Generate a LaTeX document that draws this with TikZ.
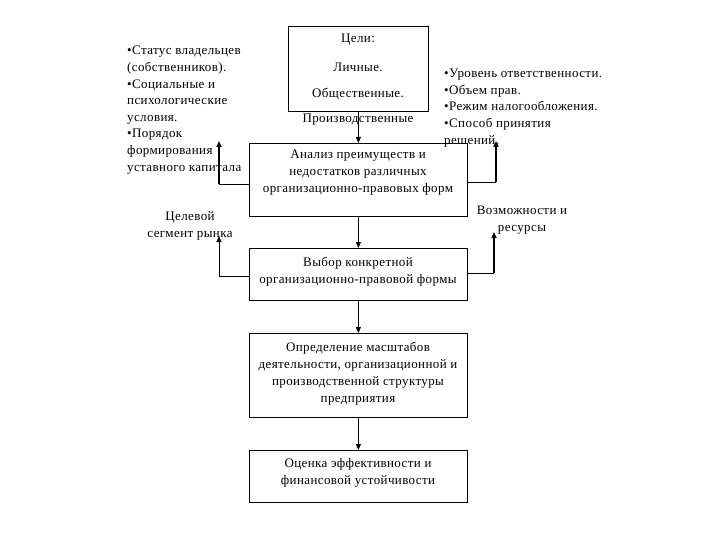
\documentclass[tikz,border=0pt]{standalone}
\usepackage{fontspec}
\setmainfont[LetterSpace=3]{Liberation Serif}
\usetikzlibrary{arrows.meta}
\begin{document}
\begin{tikzpicture}[x=1pt,y=-1pt,
  box/.style={draw, line width=0.8pt, inner sep=0, anchor=north west},
  txt/.style={font=\fontsize{13}{17}\selectfont, align=center, inner sep=0},
  ltxt/.style={font=\fontsize{13}{16.6}\selectfont, align=left, inner sep=0, anchor=north west},
  tip/.style={-{Triangle[width=5pt,length=6pt]}},
  arr/.style={tip, line width=0.8pt},
  thick arr/.style={tip, line width=2pt},
  thin line/.style={line width=0.8pt},
]
\useasboundingbox (0,0) rectangle (720,540);
% boxes
\node[box, minimum width=140pt, minimum height=85pt] (goals) at (288,26) {};
\node[box, minimum width=218pt, minimum height=73pt] (analysis) at (249,143) {};
\node[box, minimum width=218pt, minimum height=52pt] (choice) at (249,248) {};
\node[box, minimum width=218pt, minimum height=84pt] (scale) at (249,333) {};
\node[box, minimum width=218pt, minimum height=52pt] (eval) at (249,450) {};
% goals texts
\node[txt] (g1) at (358,40) {Цели:};
\node[txt] (g2) at (358,67) {Личные.};
\node[txt] (g3) at (358,94) {Общественные.};
\node[txt] (g4) at (358,120) {Производственные};
% box texts
\node[txt] (at) at (358,173) {Анализ преимуществ и\\недостатков различных\\организационно-правовых форм};
\node[txt] (ct) at (358,272) {Выбор конкретной\\организационно-правовой формы};
\node[txt] (st) at (358,374) {Определение масштабов\\деятельности, организационной и\\производственной структуры\\предприятия};
\node[txt] (et) at (358,473) {Оценка эффективности и\\финансовой устойчивости};
% side texts
\node[ltxt] (left) at (127,46) {\textbullet Статус владельцев\\(собственников).\\\textbullet Социальные и\\психологические\\условия.\\\textbullet Порядок\\формирования\\уставного капитала};
\node[ltxt] (right) at (444,69) {\textbullet Уровень ответственности.\\\textbullet Объем прав.\\\textbullet Режим налогообложения.\\\textbullet Способ принятия\\решений.};
\node[txt] (seg) at (190,226) {Целевой\\сегмент рынка};
\node[txt] (res) at (522,220) {Возможности и\\ресурсы};
% helper coordinates
\coordinate (l1) at (219,184);
\coordinate (l1t) at (219,141);
\coordinate (l2) at (219,276);
\coordinate (l2t) at (219,236);
\coordinate (r1) at (496,182);
\coordinate (r1t) at (496,141);
\coordinate (r2) at (494,273);
\coordinate (r2t) at (494,232);
% main flow
\draw[arr] (goals.south) -- (analysis.north);
\draw[arr] (analysis.south) -- (choice.north);
\draw[arr] (choice.south) -- (scale.north);
\draw[arr] (scale.south) -- (eval.north);
% side arrows
\draw[thin line] (analysis.west |- l1) -- (l1);
\draw[thick arr] (l1) -- (l1t);
\draw[arr] (choice.west |- l2) -- (l2) -- (l2t);
\draw[thin line] (analysis.east |- r1) -- (r1);
\draw[thick arr] (r1) -- (r1t);
\draw[thin line] (choice.east |- r2) -- (r2);
\draw[thick arr] (r2) -- (r2t);
\end{tikzpicture}
\end{document}
